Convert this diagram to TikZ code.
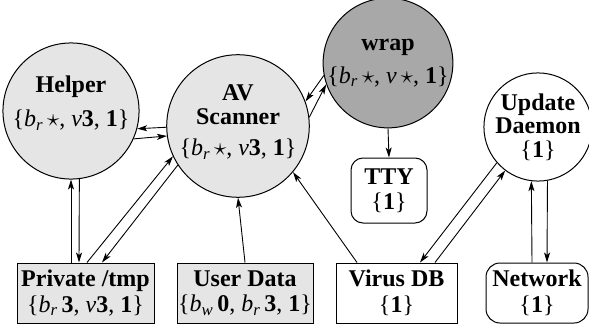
\documentclass[tikz,border=0pt]{standalone}
\usepackage{fontspec}
\setmainfont{Liberation Serif}
\usetikzlibrary{arrows.meta}
\newcommand{\mystar}{$\star$}
\newcommand{\bsubr}{\textit{b}\textsubscript{\textit{r}}}
\newcommand{\bsubw}{\textit{b}\textsubscript{\textit{w}}}
\begin{document}
\begin{tikzpicture}[x=1pt,y=-1pt,
  font=\fontsize{24}{23.5}\selectfont,
  circ/.style={circle, draw, line width=1pt, inner sep=0pt, align=center, fill=gray!20},
  boxn/.style={rectangle, draw, line width=1pt, inner sep=0pt, align=center, minimum height=60pt},
  arr/.style={-{Stealth[length=10pt,width=6pt,inset=2.5pt]}, line width=0.9pt}]
\useasboundingbox (0,0) rectangle (589,324);
% nodes
\node[circ, minimum size=118pt] (helper) at (71,111)
  {\textbf{Helper}\\[10pt]\{\bsubr\,\mystar, \textit{v}\textbf{3}, \textbf{1}\}\\[-4pt]\mbox{}};
\node[circ, minimum size=120pt] (av) at (238,126)
  {\textbf{AV}\\\textbf{Scanner}\\[8pt]\{\bsubr\,\mystar, \textit{v}\textbf{3}, \textbf{1}\}\\[-12pt]\mbox{}};
\node[circ, minimum size=120pt, fill=black!34] (wrap) at (388,63)
  {\textbf{wrap}\\[9pt]\{\bsubr\,\mystar, \textit{v}\,\mystar, \textbf{1}\}};
\node[circ, minimum size=98pt, fill=white] (upd) at (538,127)
  {\textbf{Update}\\\textbf{Daemon}\\\{\textbf{1}\}};
\node[boxn, rounded corners=12pt, minimum width=76pt, minimum height=65pt, fill=white] (tty) at (389,190.5)
  {\textbf{TTY}\\[2pt]\{\textbf{1}\}};
\node[boxn, minimum width=137pt, fill=gray!20] (priv) at (85.5,293)
  {\textbf{Private /tmp}\\[2pt]\{\bsubr\,\textbf{3}, \textit{v}\textbf{3}, \textbf{1}\}};
\node[boxn, minimum width=136pt, fill=gray!20] (ud) at (245,293)
  {\textbf{User Data}\\[2pt]\{\bsubw\,\textbf{0}, \bsubr\,\textbf{3}, \textbf{1}\}};
\node[boxn, minimum width=121pt, fill=white] (vdb) at (396.5,293)
  {\textbf{Virus DB}\\[2pt]\{\textbf{1}\}};
\node[boxn, rounded corners=14pt, minimum width=102pt, fill=white] (net) at (537,293)
  {\textbf{Network}\\[2pt]\{\textbf{1}\}};
% connectors
\draw[arr] (av.181) -- (helper.-15.7);
\draw[arr] (helper.-24) -- (av.188.6);
\draw[arr] ([xshift=-14.5pt]priv.north) -- (helper.270);
\draw[arr] (helper.277.8) -- ([xshift=-6.5pt]priv.north);
\draw[arr] ([xshift=1.5pt]priv.north) -- (av.205);
\draw[arr] (av.213.7) -- ([xshift=16.5pt]priv.north);
\draw[arr] (ud.north) -- (av.south);
\draw[arr] ([xshift=-39.5pt]vdb.north) -- (av.-40);
\draw[arr] (wrap.191) -- (av.20);
\draw[arr] (av.7.6) -- (wrap.199.7);
\draw[arr] (wrap.south) -- (tty.north);
\draw[arr] (upd.221) -- ([xshift=23.5pt]vdb.north);
\draw[arr] ([xshift=38.5pt]vdb.north) -- (upd.233);
\draw[arr] ([xshift=-5pt]net.north) -- (upd.263);
\draw[arr] (upd.280.6) -- ([xshift=10pt]net.north);
\end{tikzpicture}
\end{document}
